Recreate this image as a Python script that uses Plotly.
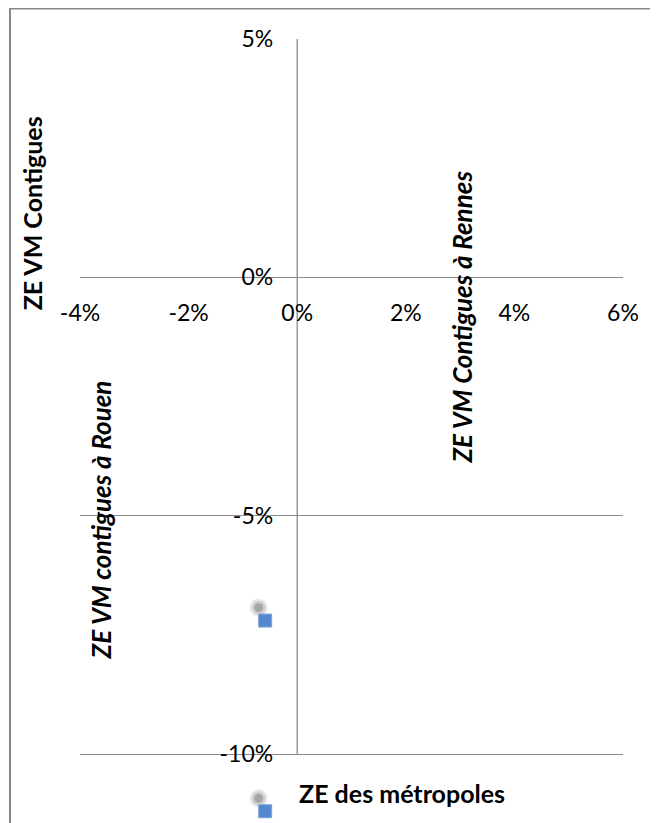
import plotly.graph_objects as go

# data (in %)
x_vals = [-0.59, -0.59]
y_vals = [-7.2, -11.2]
x_ticks = [-4, -2, 0, 2, 4, 6]
y_ticks = [-10, -5, 0, 5]
labels = ["ZE VM Contigues", "ZE VM Contigues à Rennes", "ZE VM contigues à Rouen", "ZE des métropoles"]

FONT = "Lato, 'Open Sans', sans-serif"
GRID = "#8a8a8a"

fig = go.Figure()

# blurred shadow of markers (offset in data units)
shadow_dx, shadow_dy = -0.12, 0.27
sx = [v + shadow_dx for v in x_vals]
sy = [v + shadow_dy for v in y_vals]
for size, col in [(18, "rgba(140,140,140,0.18)"), (14, "rgba(130,130,130,0.25)"), (9, "rgba(115,115,115,0.45)")]:
    fig.add_trace(go.Scatter(
        x=sx, y=sy, mode="markers", cliponaxis=False, hoverinfo="skip",
        marker=dict(symbol="circle", size=size, color=col, line=dict(width=0)),
        showlegend=False))
fig.add_trace(go.Scatter(
    x=x_vals, y=y_vals, mode="markers", cliponaxis=False,
    marker=dict(symbol="square", size=13, color="#5587CF",
                line=dict(width=1, color="#7DA3D8")),
    showlegend=False))

# label positions in paper coordinates (relative to plot area)
ann_pos = [
    dict(x=-0.0884, y=0.7776, textangle=-90, italic=False, xanchor="center", size=25),
    dict(x=0.704, y=0.645, textangle=-90, italic=True, xanchor="center", size=26),
    dict(x=0.0387, y=0.386, textangle=-90, italic=True, xanchor="center", size=26),
    dict(x=0.3996, y=0.0382, textangle=0, italic=False, xanchor="left", size=25),
]
for lab, p in zip(labels, ann_pos):
    txt = f"<b><i>{lab}</i></b>" if p["italic"] else f"<b>{lab}</b>"
    fig.add_annotation(x=p["x"], y=p["y"], xref="paper", yref="paper", text=txt,
                       showarrow=False, textangle=p["textangle"],
                       xanchor=p["xanchor"], yanchor="middle",
                       font=dict(family=FONT, size=p["size"], color="#000000"))

# vertical axis line at x = 0, spanning the gridded range
fig.add_shape(type="line", xref="x", yref="y", x0=0, x1=0,
              y0=min(y_ticks), y1=max(y_ticks),
              line=dict(color=GRID, width=1.3), layer="below")

# frame border
fig.add_shape(type="rect", xref="paper", yref="paper",
              x0=-0.1289, x1=1.3, y0=-0.1, y1=1.0389,
              line=dict(color="#878787", width=2), layer="below")

fig.update_layout(
    width=650, height=815,
    margin=dict(l=72, r=35, t=30.5, b=0),
    paper_bgcolor="white", plot_bgcolor="white",
    font=dict(family=FONT, size=23, color="#000000"),
    xaxis=dict(range=[-4, 6], tickvals=x_ticks, ticktext=[f"{v}%" for v in x_ticks],
               showgrid=False, zeroline=False,
               showline=False, ticks="", anchor="free", position=11.447/16.447,
               ticklabelstandoff=20, tickfont=dict(size=23)),
    yaxis=dict(range=[-11.447, 5], tickvals=y_ticks, ticktext=[f"{v}%" for v in y_ticks],
               showgrid=True, gridcolor=GRID, gridwidth=1.3,
               zeroline=False,
               showline=False, ticks="", anchor="free", position=0.4,
               ticklabelstandoff=24, tickfont=dict(size=23)),
)

fig.write_html("out.html")
